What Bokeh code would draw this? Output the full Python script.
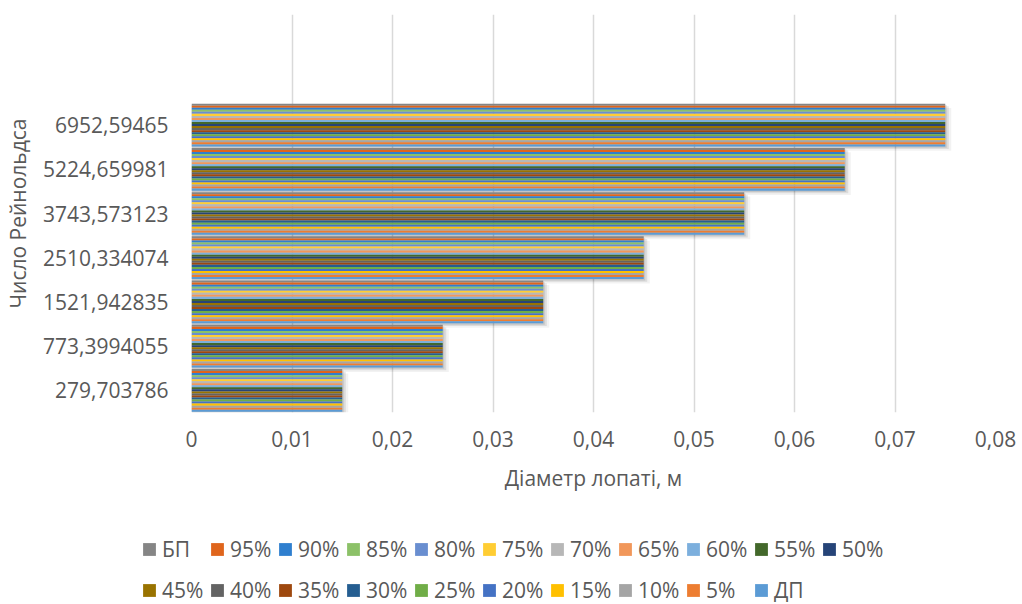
from bokeh.plotting import figure
from bokeh.models import (ColumnDataSource, FactorRange, Range1d, FixedTicker,
                          CustomJSTickFormatter, Legend, LegendItem)
from bokeh.layouts import column
from bokeh.transform import dodge
from bokeh.embed import file_html
from bokeh.resources import INLINE

# ---- data ----
reynolds = ["279,703786", "773,3994055", "1521,942835", "2510,334074",
            "3743,573123", "5224,659981", "6952,59465"]
diameters = [0.015, 0.025, 0.035, 0.045, 0.055, 0.065, 0.075]
series = ["БП", "95%", "90%", "85%", "80%", "75%", "70%", "65%", "60%", "55%", "50%",
          "45%", "40%", "35%", "30%", "25%", "20%", "15%", "10%", "5%", "ДП"]
colors = ["#858585", "#DF651C", "#2F7FCF", "#8CC168", "#698ED0", "#FFCD33", "#B7B7B7",
          "#F1975A", "#7CAFDD", "#43682B", "#264478", "#997300", "#636363", "#9E480E",
          "#255E91", "#70AD47", "#4472C4", "#FFC000", "#A5A5A5", "#ED7D31", "#5B9BD5"]
x_ticks = [0, 0.01, 0.02, 0.03, 0.04, 0.05, 0.06, 0.07, 0.08]

FONT = "Open Sans"
FS = "21px"
TXT = "#595959"

factors = reynolds + [" ", "  "]
p = figure(width=1022, height=520, output_backend="svg", toolbar_location=None,
           y_range=FactorRange(factors=factors, range_padding=0),
           x_range=Range1d(0, 0.08),
           min_border_left=190, min_border_right=27, min_border_top=14,
           min_border_bottom=108)
p.outline_line_color = None
p.background_fill_color = "white"
p.frame_align = False

src = ColumnDataSource(dict(cat=reynolds, val=diameters))
group = 0.966
n = len(series)
h = group / n

# soft shadow under each group
for off, extra, alpha in [(-0.1, 0.0006, 0.05), (-0.06, 0.00035, 0.09), (-0.03, 0.00015, 0.10)]:
    ssrc = ColumnDataSource(dict(cat=reynolds, val=[d + extra for d in diameters]))
    p.hbar(y=dodge("cat", off, range=p.y_range), left=0, right="val", height=group,
           source=ssrc, fill_color="black", fill_alpha=alpha, line_color=None)

for k, (name, col) in enumerate(zip(series, colors)):
    off = ((n - 1) / 2 - k) * h
    p.hbar(y=dodge("cat", off, range=p.y_range), left=0, right="val", height=h,
           source=src, fill_color=col, line_color=None)

# axes
p.xaxis.ticker = FixedTicker(ticks=x_ticks)
p.xaxis.formatter = CustomJSTickFormatter(
    code="return Math.abs(tick) < 1e-9 ? '0' : tick.toFixed(2).replace('.', ',');")
p.xaxis.axis_label = "Діаметр лопаті, м"
p.yaxis.axis_label = "Число Рейнольдса"
for ax in (p.xaxis[0], p.yaxis[0]):
    ax.axis_line_color = None
    ax.major_tick_line_color = None
    ax.minor_tick_line_color = None
    ax.major_tick_out = 0
    ax.major_tick_in = 0
    ax.minor_tick_out = 0
    ax.major_label_text_font = FONT
    ax.major_label_text_font_size = FS
    ax.major_label_text_color = TXT
    ax.axis_label_text_font = FONT
    ax.axis_label_text_font_size = FS
    ax.axis_label_text_font_style = "normal"
    ax.axis_label_text_color = TXT
p.xaxis.major_label_standoff = 18
p.xaxis.axis_label_standoff = 14
p.yaxis.major_label_standoff = 23
p.yaxis.axis_label_standoff = 8

p.xgrid.grid_line_color = "#d9d9d9"
p.xgrid.grid_line_width = 1.5
p.ygrid.grid_line_color = None

# ---- legend panel (two rows) ----
lf = figure(width=1022, height=84, output_backend="svg", toolbar_location=None,
            x_range=Range1d(1, 2), y_range=Range1d(1, 2),
            x_axis_type=None, y_axis_type=None, min_border=0)
lf.outline_line_color = None
lf.xgrid.grid_line_color = None
lf.ygrid.grid_line_color = None
lf.frame_align = False

items = []
for name, col in zip(series, colors):
    # swatch renderers for the legend; their bars fall outside this panel's ranges
    r = lf.hbar(y="val", left=0, right="val", height=0.001, source=src,
                fill_color=col, line_color=None)
    items.append(LegendItem(label=name, renderers=[r]))

def make_legend(its, loc):
    return Legend(items=its, location=loc, orientation="horizontal",
                  glyph_width=16, glyph_height=16, label_standoff=5, label_width=47,
                  spacing=0, padding=0, margin=0, border_line_color=None,
                  background_fill_alpha=0, label_text_font=FONT,
                  label_text_font_size=FS, label_text_color=TXT)

lf.add_layout(make_legend(items[:11], (141, 41)), "center")
lf.add_layout(make_legend(items[11:], (141, 0)), "center")

layout = column(p, lf, spacing=0)
open("out.html", "w").write(file_html(layout, INLINE))
